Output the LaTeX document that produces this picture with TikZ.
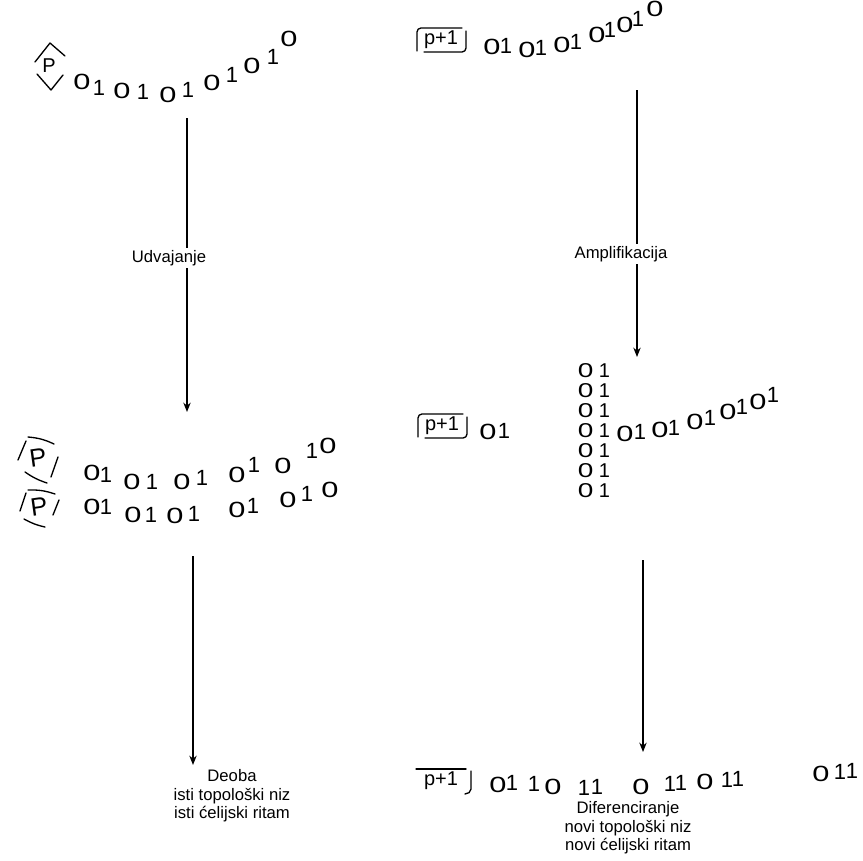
\documentclass[tikz,border=0pt]{standalone}
\usepackage{fontspec}
\usepackage{graphicx}
\setmainfont{Liberation Sans}
\usetikzlibrary{arrows.meta}
% a round, widened zero as in the hand-set sequences
\newcommand\zr{\scalebox{1.4}[1]{0}}
\newcommand\dg[1]{\ifnum#1=0 \zr\else 1\fi}
\begin{document}
\begin{tikzpicture}[x=0.75pt,y=-0.75pt,
  dig/.style={inner sep=0pt, font=\fontsize{16.5}{16.5}\selectfont},
  coldig/.style={inner sep=0pt, font=\fontsize{15}{15}\selectfont},
  sym/.style={inner sep=0pt, font=\fontsize{15}{15}\selectfont},
  bigp/.style={inner sep=0pt, font=\fontsize{19}{19}\selectfont},
  lbl/.style={inner sep=1.5pt, font=\fontsize{12.5}{14}\selectfont, align=center},
  flow/.style={line width=1.1pt, -{Stealth[length=7pt,width=5.5pt]}},
  stroke/.style={line width=1pt, line cap=round, line join=round}]
\useasboundingbox (0,0) rectangle (863,860);

% ---------- left column ----------
% diamond around P
\draw[stroke] (35,62) -- (50,43) -- (65,56);
\draw[stroke] (37,74) -- (51,90) -- (63,75);
\node[sym] (pa) at (49,66) {P};
\foreach \d/\x/\y [count=\i] in {0/82/82,1/99/88,0/122/91,1/143/92,0/168/95,1/188/90,0/212/83,1/232/75,0/252/66,1/273/57,0/289/39}
  \node[dig] (ra\i) at (\x,\y) {\dg{\d}};

\coordinate (a1top) at (187,118);
\coordinate (a1tip) at (187,412);
\draw[flow] (a1top) -- (a1tip);
\node[lbl, fill=white] (udv) at (169,258) {Udvajanje};

% first tilted frame
\draw[stroke] (18,460) -- (26,441);
\draw[stroke] (28,437) to[bend left=10] (54,444);
\draw[stroke] (58,457) -- (51,477);
\draw[stroke] (25,472) to[bend right=8] (47,483);
\node[bigp, rotate=8] (pb) at (38,458) {P};
\foreach \d/\x/\y [count=\i] in {0/92/473,1/106/475,0/132/482,1/152/482,0/182/482,1/202/478,0/237/475,1/254/465,0/283/466,1/312/451,0/328/446}
  \node[dig] (rb\i) at (\x,\y) {\dg{\d}};

% second tilted frame
\draw[stroke] (20,511) -- (26,493);
\draw[stroke] (28,490) to[bend left=10] (55,494);
\draw[stroke] (59,500) -- (53,515);
\draw[stroke] (24,519) to[bend right=8] (45,527);
\node[bigp, rotate=8] (pc) at (39,507) {P};
\foreach \d/\x/\y [count=\i] in {0/92/507,1/106/507,0/133/515,1/151/515,0/175/516,1/194/514,0/237/510,1/253/506,0/288/500,1/307/494,0/330/490}
  \node[dig] (rc\i) at (\x,\y) {\dg{\d}};

\coordinate (a2top) at (193,556);
\coordinate (a2tip) at (193,765);
\draw[flow] (a2top) -- (a2tip);
\node[lbl] (deoba) at (232,796) {Deoba\\isti topološki niz\\isti ćelijski ritam};

% ---------- right column ----------
\begin{scope}[shift={(441,40)}]
  \draw[stroke] (-24,11) -- (-24,-8) to[out=90,in=180] (-20,-12) -- (21,-12);
  \draw[stroke] (25,-9) -- (25,8) to[out=-90,in=0] (21,12) -- (-17,12);
\end{scope}
\node[sym] (pd) at (441,40) {p+1};
\foreach \d/\x/\y [count=\i] in {0/492/47,1/506/46,0/527/50,1/541/48,0/562/45,1/576/42,0/597/35,1/610/30,0/625/25,1/638/19,0/655/9}
  \node[dig] (rd\i) at (\x,\y) {\dg{\d}};

\coordinate (a3top) at (637,90);
\coordinate (a3tip) at (637,357);
\draw[flow] (a3top) -- (a3tip);
\node[lbl, fill=white] (ampl) at (621,254) {Amplifikacija};

\begin{scope}[shift={(442,426)}]
  \draw[stroke] (-24,11) -- (-24,-8) to[out=90,in=180] (-20,-12) -- (21,-12);
  \draw[stroke] (25,-9) -- (25,8) to[out=-90,in=0] (21,12) -- (-17,12);
\end{scope}
\node[sym] (pe) at (442,426) {p+1};
\node[dig] (rl1) at (488,432) {\zr};
\node[dig] (rl2) at (504,431) {1};
\foreach \y [count=\i] in {371,391,411,431,451,471,491}
  \node[coldig] (col\i) at (594,\y) {\zr\hspace{4pt}1};
\foreach \d/\x/\y [count=\i] in {0/625/434,1/640/432,0/660/430,1/674/428,0/695/422,1/710/418,0/728/412,1/742/407,0/758/402,1/773/395}
  \node[dig] (re\i) at (\x,\y) {\dg{\d}};

\coordinate (a4top) at (643,560);
\coordinate (a4tip) at (643,752);
\draw[flow] (a4top) -- (a4tip);

\draw[stroke] (416,769) -- (466,769);
\draw[stroke] (471,771) -- (471,789) to[out=-90,in=0] (465,794);
\node[sym] (pf) at (441,781) {p+1};
\foreach \d/\x/\y [count=\i] in {0/498/785,1/512/783,1/534/784,0/553/787,1/584/788,1/597/787,0/641/787,1/670/784,1/681/783,0/705/782,1/727/780,1/738/779,0/821/774,1/840/772,1/852/771}
  \node[dig] (rf\i) at (\x,\y) {\dg{\d}};
\node[lbl] (difer) at (628,828) {Diferenciranje\\novi topološki niz\\novi ćelijski ritam};
\end{tikzpicture}
\end{document}
